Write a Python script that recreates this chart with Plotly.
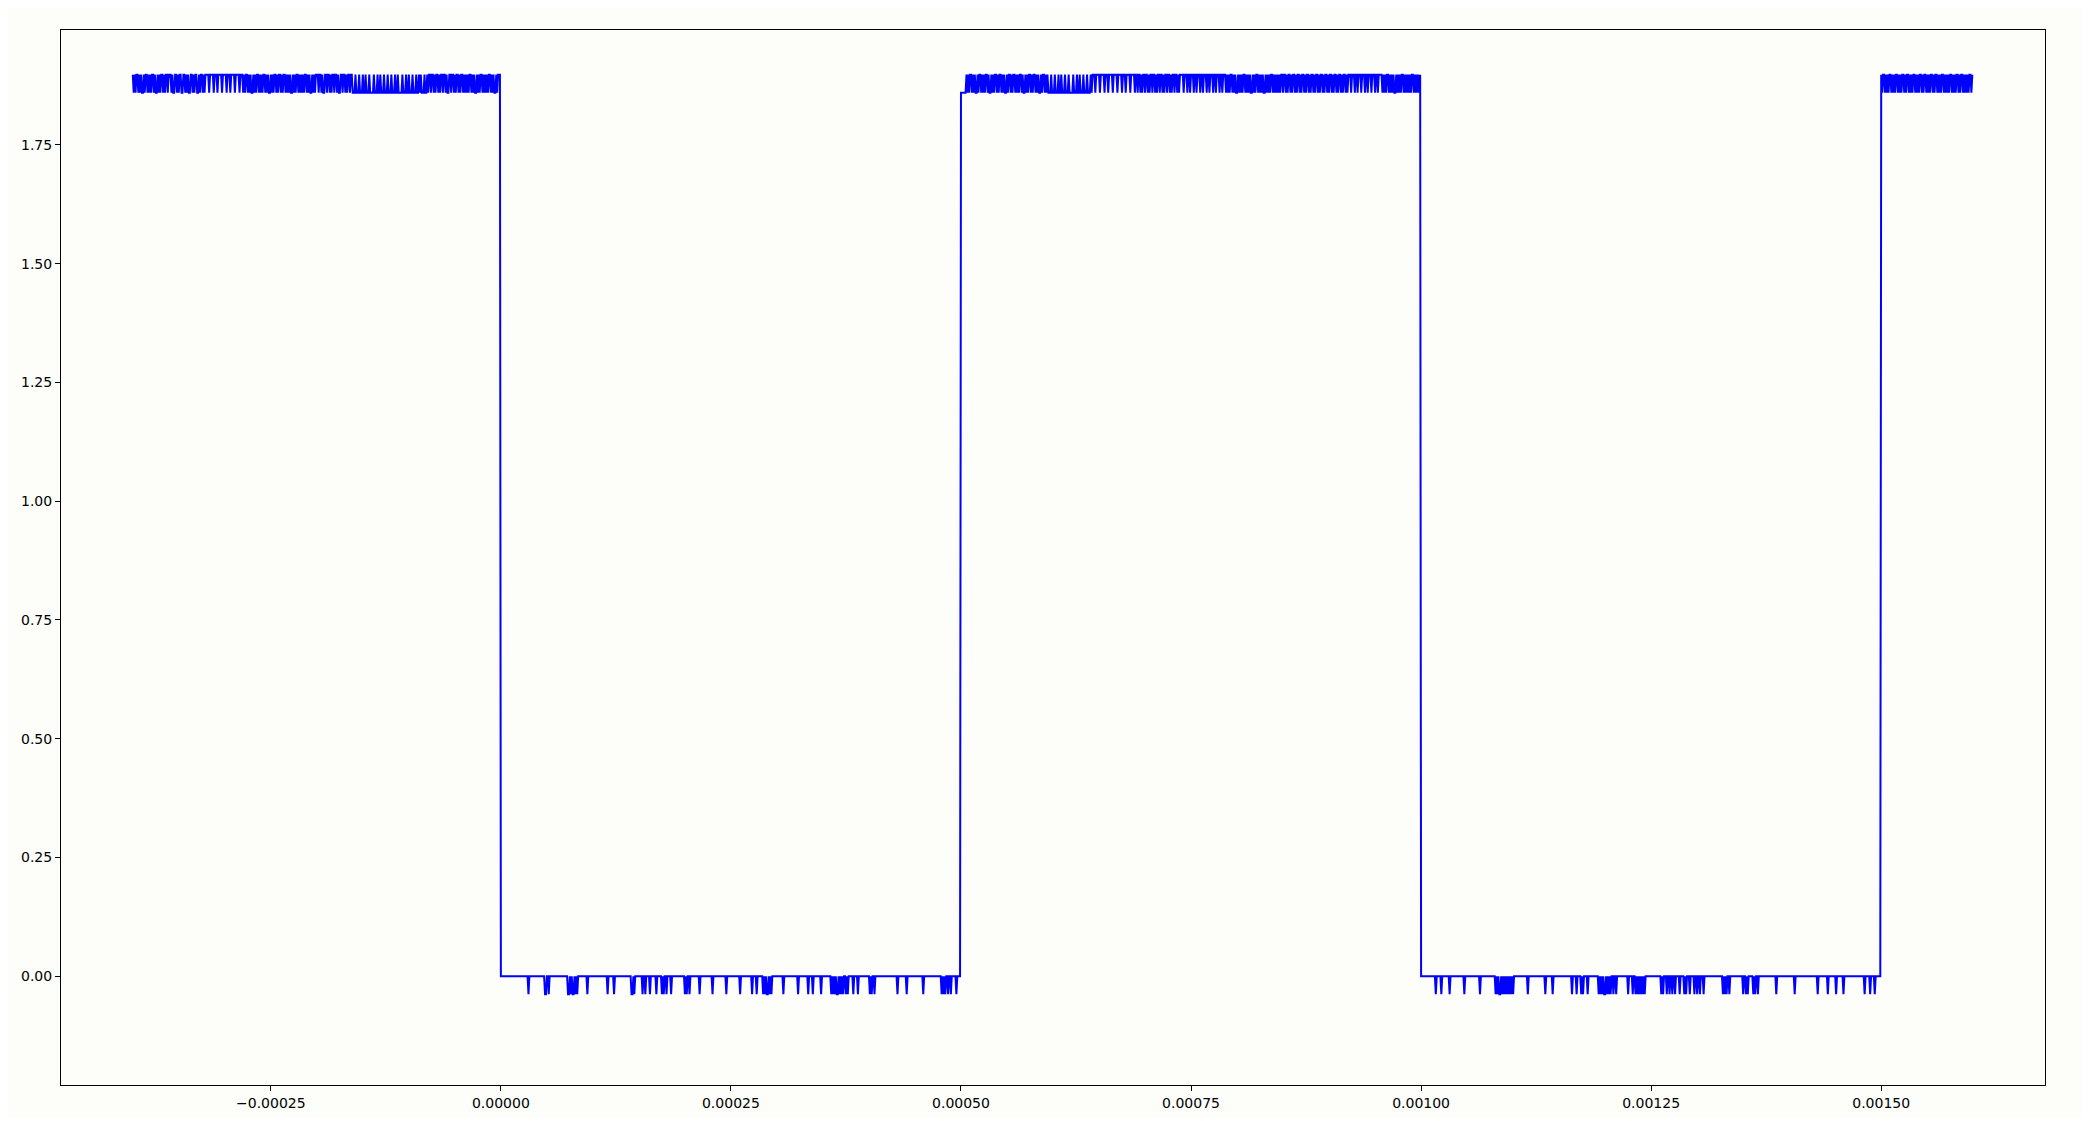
import plotly.graph_objects as go

# ---- data ----
# sample spacing of the trace, microseconds
STEP_US = 1.0

# quantised levels of the signal (V)
HIGH_UPPER = 1.898
HIGH_LOWER = 1.860
LOW_BASE = 0.0
LOW_DIP = -0.038

# high phases: one character per 1 us sample, '1' = upper level, '0' = lower level
HIGH1_START_US, HIGH1_END_US = -400, 0
HIGH1 = (
    "1010110101001011010101101001010110101101"
    "1101001101011001101010011010110010110101"
    "1110111101110111101111011101111011110111"
    "0101101010010101101010110101001010110101"
    "1010110101010010101101010101101010010101"
    "1101101001101101011011010011011010110110"
    "0010001000100100010000100010010001000100"
    "0100010010000100010010001000100101000100"
    "1011011010110101101101001101101011010110"
    "1010101101010010101101010101101010010111"
)

HIGH2_START_US, HIGH2_END_US = 500, 1000
HIGH2 = (
    "000000"
    "101011010100101101010110100101011010110101001011010110101011010010101101011010100101101010"
    "00100010001001000100010000100010010001000100010"
    "11101111011110111011110111101111011101111011110"
    "11011010110110101101101011011010110110101101101011"
    "11011101101110110111011011101101110110111011011"
    "10101011010100101010110101010010101101010100101010110101010101"
    "101101011010110101101011010110101101011010110101101011010110101101011010"
    "111011101101110111011011101110110111"
    "1010101101010100101010110101010101101010101"
)

HIGH3_START_US, HIGH3_END_US = 1500, 1600
HIGH3 = (
    "10110101011010101101010110101101010110101011010110"
    "10101101011010101101010101101010110101101010101101"
)

# low phases: start, length and the sample times (us) that dip one level below 0
LOW1_START_US = 0
LOW1_LEN = 500
LOW1_DIPS_US = [30, 48, 49, 52, 73, 74, 76, 78, 79, 81, 83, 94, 116, 123, 142, 143,
                145, 154, 157, 162, 169, 175, 177, 180, 185, 200, 202, 205, 216, 230,
                245, 260, 273, 278, 285, 287, 289, 290, 292, 294, 307, 323, 334, 339,
                348, 359, 361, 363, 365, 366, 368, 370, 372, 375, 377, 383, 388, 401,
                403, 406, 431, 441, 459, 479, 481, 483, 486, 489, 495]

LOW2_START_US = 1000
LOW2_LEN = 500
LOW2_DIPS_US = [1016, 1022, 1031, 1047, 1064, 1081, 1083, 1085, 1086, 1088, 1090, 1092,
                1094, 1096, 1098, 1100, 1116, 1135, 1143, 1164, 1169, 1174, 1176, 1181,
                1193, 1195, 1197, 1199, 1200, 1202, 1204, 1206, 1209, 1212, 1225, 1230,
                1233, 1235, 1237, 1239, 1241, 1243, 1261, 1263, 1267, 1270, 1273, 1276,
                1281, 1286, 1288, 1292, 1297, 1300, 1303, 1307, 1328, 1330, 1332, 1335,
                1350, 1353, 1355, 1361, 1363, 1366, 1386, 1406, 1431, 1442, 1451, 1459,
                1482, 1488, 1493]

X_TICKS = [-0.00025, 0.0, 0.00025, 0.0005, 0.00075, 0.001, 0.00125, 0.0015]
Y_TICKS = [0.0, 0.25, 0.5, 0.75, 1.0, 1.25, 1.5, 1.75]

# ---- build the trace ----
xs, ys = [], []


def add_high(start, end, pattern):
    for i, c in enumerate(pattern):
        t = start + i * STEP_US
        if t >= end:
            break
        xs.append(t * 1e-6)
        ys.append(HIGH_UPPER if c == "1" else HIGH_LOWER)


def add_low(start, length, dips):
    dipset = set(dips)
    for i in range(length):
        t = start + i * STEP_US
        xs.append(t * 1e-6)
        ys.append(LOW_DIP if int(round(t)) in dipset else LOW_BASE)


add_high(HIGH1_START_US, HIGH1_END_US, HIGH1)
add_low(LOW1_START_US, LOW1_LEN, LOW1_DIPS_US)
add_high(HIGH2_START_US, HIGH2_END_US, HIGH2)
add_low(LOW2_START_US, LOW2_LEN, LOW2_DIPS_US)
add_high(HIGH3_START_US, HIGH3_END_US, HIGH3)

fig = go.Figure(
    go.Scatter(
        x=xs, y=ys, mode="lines",
        line=dict(color="#0000ff", width=2, simplify=False),
        hoverinfo="skip", showlegend=False,
    )
)

axis_common = dict(
    showgrid=False, zeroline=False, showline=True, linecolor="black", linewidth=1,
    mirror=True, ticks="outside", ticklen=5, tickwidth=1, tickcolor="black",
    tickfont=dict(family="DejaVu Sans", size=14, color="black"),
    automargin=False,
)

# the page body adds an 8px margin around the figure
fig.update_layout(
    width=2074, height=1110,
    margin=dict(l=53, r=37, t=22, b=33),
    paper_bgcolor="#fdfdfa", plot_bgcolor="#fdfdfa",
    xaxis=dict(range=[-0.000478, 0.001678], tickvals=X_TICKS,
               ticktext=[("\u2212" if v < 0 else "") + f"{abs(v):.5f}" for v in X_TICKS],
               **axis_common),
    yaxis=dict(range=[-0.229, 1.992], tickvals=Y_TICKS,
               ticktext=[f"{v:.2f}" for v in Y_TICKS], **axis_common),
)

fig.write_html("out.html")
